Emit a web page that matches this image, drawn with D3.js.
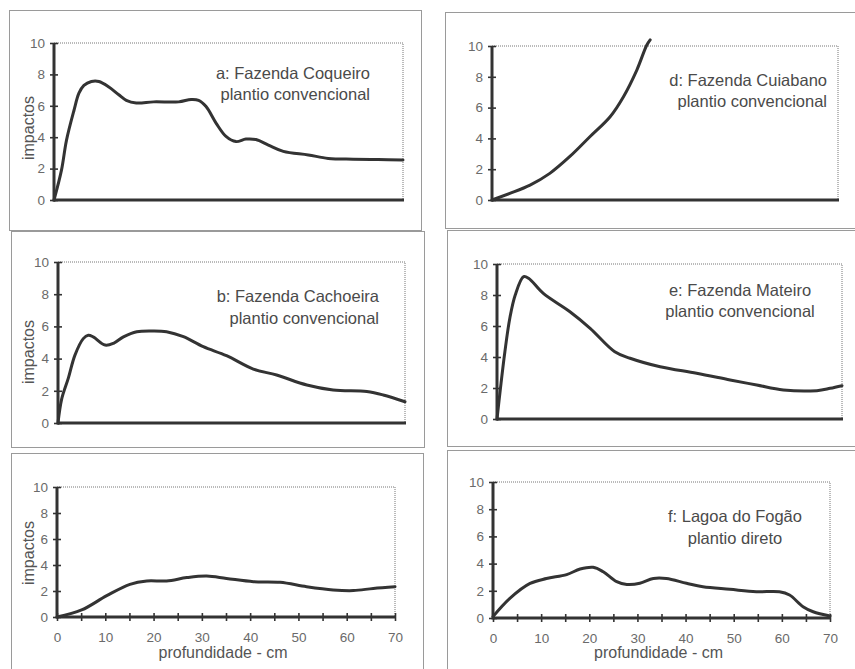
<!DOCTYPE html>
<html>
<head>
<meta charset="utf-8">
<script src="https://cdn.jsdelivr.net/npm/d3@7"></script>
<style>
  html, body { margin: 0; padding: 0; background: #ffffff; }
  svg { display: block; }
  text { font-family: "Liberation Sans", Arial, Helvetica, sans-serif; }
</style>
</head>
<body>
<svg id="chart" width="855" height="669"></svg>
<script>
// ---------- DATA ----------
const yTickValues = [0, 2, 4, 6, 8, 10];
const xTickLabels = [0, 10, 20, 30, 40, 50, 60, 70];
const xMinorTicks = [0, 5, 10, 15, 20, 25, 30, 35, 40, 45, 50, 55, 60, 65, 70];
const yAxisTitle = "impactos";
const xAxisTitle = "profundidade - cm";

const titlesA = ["a: Fazenda Coqueiro", "plantio convencional"];
const depthA  = [0, 1.5, 2.5, 4, 5, 6, 7.5, 9, 11, 13, 14.5, 16.5, 20, 25, 27.5, 29, 30.5, 32.5, 34.5, 36.5, 38.5, 40.5, 43, 46, 51, 55, 60, 65, 70];
const impactA = [0, 1.9, 3.8, 5.7, 6.8, 7.3, 7.55, 7.55, 7.2, 6.7, 6.35, 6.18, 6.25, 6.25, 6.4, 6.35, 5.95, 4.9, 4.05, 3.72, 3.88, 3.85, 3.5, 3.1, 2.87, 2.65, 2.6, 2.58, 2.55];

const titlesB = ["b: Fazenda Cachoeira", "plantio convencional"];
const depthB  = [0, 0.75, 2.1, 3.4, 5.1, 6.1, 7.1, 9.5, 11.2, 13.2, 15.9, 19.2, 21.9, 25.3, 29.3, 34, 39.4, 44.1, 50.2, 55.5, 62.3, 65.6, 70];
const impactB = [0, 1.5, 2.8, 4.2, 5.24, 5.45, 5.35, 4.84, 4.95, 5.35, 5.67, 5.72, 5.67, 5.36, 4.74, 4.18, 3.35, 2.98, 2.36, 2.05, 1.95, 1.74, 1.32];

const titlesC = [];
const depthC  = [0, 5.1, 10.3, 15.1, 18.6, 22.7, 26.9, 31, 35.1, 40.7, 46.2, 51.7, 57.2, 61.4, 65.5, 70];
const impactC = [0, 0.54, 1.64, 2.51, 2.77, 2.77, 3.03, 3.15, 2.97, 2.72, 2.67, 2.33, 2.08, 2.03, 2.2, 2.33];

const titlesD = ["d: Fazenda Cuiabano", "plantio convencional"];
const depthD  = [0, 3.6, 7.7, 11.7, 15.7, 19.8, 23.9, 26.6, 29.3, 31.3, 32];
const impactD = [0, 0.43, 0.97, 1.73, 2.81, 4.11, 5.41, 6.71, 8.44, 10.05, 10.4];

const titlesE = ["e: Fazenda Mateiro", "plantio convencional"];
const depthE  = [0, 0.7, 1.6, 2.6, 3.7, 5.4, 6.4, 9.4, 14.8, 18.9, 23.9, 27, 33.1, 40.5, 47.3, 52.7, 58.1, 64.9, 67.6, 70];
const impactE = [0, 1.98, 4.34, 6.5, 8.0, 9.18, 9.08, 8.1, 6.92, 5.85, 4.34, 3.92, 3.37, 2.95, 2.52, 2.19, 1.87, 1.83, 1.98, 2.15];

const titlesF = ["f: Lagoa do Fogão", "plantio direto"];
const depthF  = [0, 3.5, 7.7, 11.1, 15.3, 18.1, 20.8, 22.9, 25.7, 27.8, 30.5, 33.3, 36, 40.2, 43.6, 49.2, 54.7, 59.5, 61.6, 64.4, 66.5, 70];
const impactF = [0.1, 1.44, 2.54, 2.9, 3.19, 3.6, 3.73, 3.4, 2.67, 2.47, 2.55, 2.9, 2.9, 2.55, 2.3, 2.11, 1.93, 1.93, 1.69, 0.83, 0.46, 0.15];

// ---------- LAYOUT (positions only) ----------
const panels = [
  { depth: depthA, impact: impactA, titles: titlesA, frame: [9, 10, 421, 230],  x0: 54,  x1: 403, y0: 200, y1: 43,  yTitle: true,  xLabels: false, tAnchor: "end",    tx: 370, ty: [79, 100], yTitleY: 128 },
  { depth: depthB, impact: impactB, titles: titlesB, frame: [11, 231, 424, 447], x0: 58,  x1: 405, y0: 423, y1: 262, yTitle: true,  xLabels: false, tAnchor: "end",    tx: 379, ty: [302, 324], yTitleY: 352 },
  { depth: depthC, impact: impactC, titles: titlesC, frame: [11, 453, 423, 672], x0: 57,  x1: 395, y0: 617, y1: 487, yTitle: true,  xLabels: true,  tAnchor: "end",    tx: 370, ty: [0, 0],     yTitleY: 553 },
  { depth: depthD, impact: impactD, titles: titlesD, frame: [445, 12, 858, 228], x0: 492, x1: 838, y0: 200, y1: 46,  yTitle: false, xLabels: false, tAnchor: "end",    tx: 827, ty: [86, 107],  yTitleY: 0 },
  { depth: depthE, impact: impactE, titles: titlesE, frame: [447, 230, 858, 446], x0: 497, x1: 842, y0: 419, y1: 264, yTitle: false, xLabels: false, tAnchor: "middle", tx: 740, ty: [296, 317], yTitleY: 0 },
  { depth: depthF, impact: impactF, titles: titlesF, frame: [447, 450, 858, 672], x0: 493, x1: 830, y0: 618, y1: 482, yTitle: false, xLabels: true,  tAnchor: "middle", tx: 735, ty: [522, 544], yTitleY: 0 }
];

const svg = d3.select("#chart");
const ink = "#333333";

panels.forEach(p => {
  const g = svg.append("g");
  const [fx0, fy0, fx1, fy1] = p.frame;
  g.append("rect")
    .attr("x", fx0 + 0.5).attr("y", fy0 + 0.5)
    .attr("width", fx1 - fx0).attr("height", fy1 - fy0)
    .attr("fill", "none").attr("stroke", "#9a9a9a").attr("stroke-width", 1);

  const x = d3.scaleLinear().domain([0, 70]).range([p.x0, p.x1]);
  const y = d3.scaleLinear().domain([0, 10]).range([p.y0, p.y1]);

  // dotted plot-area border (top and right)
  g.append("path")
    .attr("d", `M${x(0)},${y(10)}H${x(70)}V${y(0)}`)
    .attr("fill", "none").attr("stroke", "#777").attr("stroke-width", 1)
    .attr("stroke-dasharray", "1,1");

  // y axis
  const yAxis = d3.axisLeft(y).tickValues(yTickValues).tickSize(4).tickPadding(5);
  const ya = g.append("g").attr("transform", `translate(${x(0)},0)`).call(yAxis);
  ya.select(".domain").remove();
  ya.selectAll(".tick line").attr("x1", 4).attr("x2", -4).attr("stroke", ink).attr("stroke-width", 1.6);
  ya.selectAll(".tick text").attr("fill", "#6a6a6a").style("font-size", "13.5px")
    .style("font-family", '"Liberation Sans", Arial, sans-serif');

  // x axis
  if (p.xLabels) {
    const xAxis = d3.axisBottom(x).tickValues(xMinorTicks).tickSize(4).tickPadding(11)
      .tickFormat(d => xTickLabels.includes(d) ? d : "");
    const xa = g.append("g").attr("transform", `translate(0,${y(0)})`).call(xAxis);
    xa.select(".domain").remove();
    xa.selectAll(".tick line").attr("y1", -4).attr("y2", 4).attr("stroke", ink).attr("stroke-width", 1.6);
    xa.selectAll(".tick text").attr("fill", "#6a6a6a").style("font-size", "13.5px")
      .style("font-family", '"Liberation Sans", Arial, sans-serif');
    g.append("text")
      .attr("x", (x(0) + x(70)) / 2 - 3).attr("y", 658)
      .attr("text-anchor", "middle").attr("fill", "#555")
      .style("font-size", "16px").text(xAxisTitle);
  }

  // axis lines (thick)
  g.append("line").attr("x1", x(0)).attr("x2", x(0)).attr("y1", y(0) + 1.5).attr("y2", y(10))
    .attr("stroke", ink).attr("stroke-width", 3);
  g.append("line").attr("x1", x(0)).attr("x2", x(70) + 1).attr("y1", y(0)).attr("y2", y(0))
    .attr("stroke", ink).attr("stroke-width", 3);

  // y title
  if (p.yTitle) {
    g.append("text")
      .attr("transform", `translate(28,${p.yTitleY}) rotate(-90)`)
      .attr("text-anchor", "middle").attr("dy", "0.35em")
      .attr("fill", "#555").style("font-size", "16px").text(yAxisTitle);
  }

  // curve
  const line = d3.line()
    .x((d, i) => x(p.depth[i]))
    .y((d, i) => y(p.impact[i]))
    .curve(d3.curveCatmullRom.alpha(0.5));
  g.append("path")
    .attr("d", line(p.depth))
    .attr("fill", "none").attr("stroke", ink).attr("stroke-width", 3)
    .attr("stroke-linejoin", "round").attr("stroke-linecap", "round");

  // annotation
  p.titles.forEach((t, i) => {
    g.append("text")
      .attr("x", p.tx).attr("y", p.ty[i])
      .attr("text-anchor", p.tAnchor).attr("fill", "#4a4a4a")
      .style("font-size", "16.5px").text(t);
  });
});
</script>
</body>
</html>
